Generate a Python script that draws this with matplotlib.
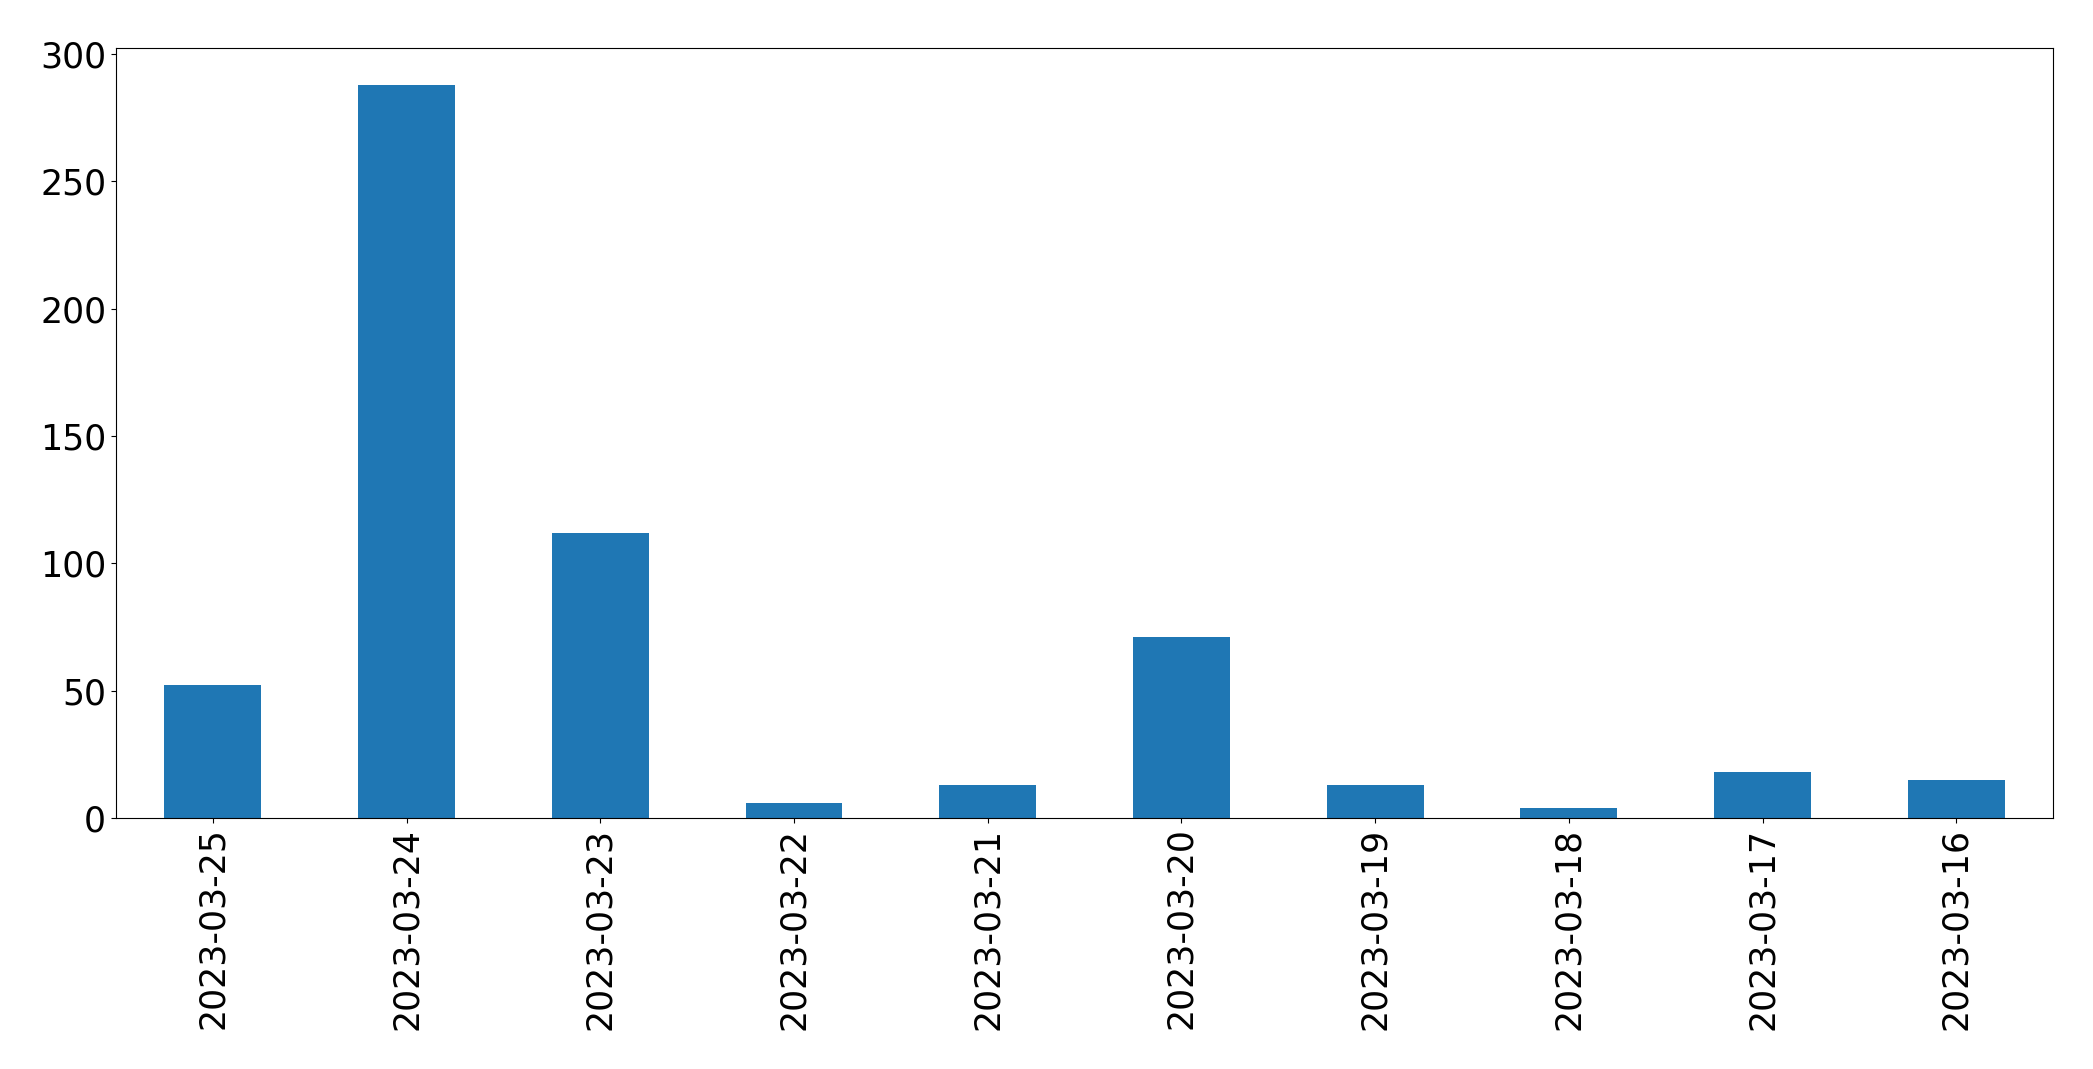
import matplotlib
matplotlib.use('Agg')
import matplotlib.pyplot as plt
import numpy as np

dates = ['2023-03-25', '2023-03-24', '2023-03-23', '2023-03-22', '2023-03-21',
         '2023-03-20', '2023-03-19', '2023-03-18', '2023-03-17', '2023-03-16']
counts = [52, 288, 112, 6, 13, 71, 13, 4, 18, 15]

fig = plt.figure(figsize=(20.93, 10.69), dpi=100)
ax = fig.add_subplot()
x = np.arange(len(dates))
ax.bar(x, counts, width=0.5, color='#1f77b4')
ax.set_xlim(-0.5, len(dates) - 0.5)
ax.set_xticks(x)
ax.set_xticklabels(dates, rotation=90)
ax.tick_params(axis='both', labelsize=25)
fig.subplots_adjust(left=0.0554, right=0.981, top=0.955, bottom=0.235)
fig.savefig('out.png', dpi=100)
